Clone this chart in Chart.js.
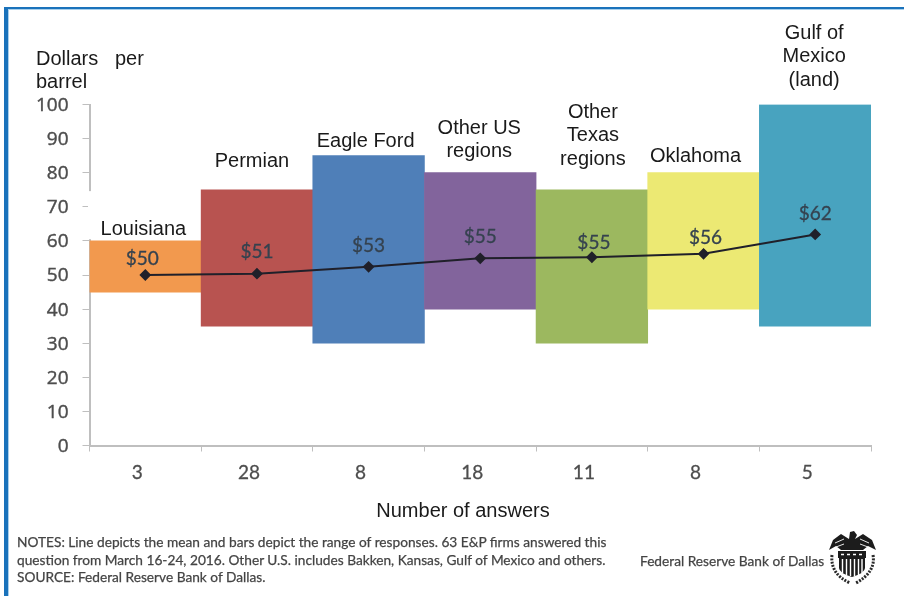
<!DOCTYPE html>
<html>
<head>
<meta charset="utf-8">
<script src="https://cdn.jsdelivr.net/npm/chart.js@4"></script>
<style>
  html, body { margin: 0; padding: 0; background: #fff; }
  #wrap { position: relative; width: 904px; height: 596px; overflow: hidden; }
  #frame { position: absolute; left: 4px; top: 7px; right: 0; bottom: 0; border-left: 4px solid #1a72bb; border-top: 2px solid #1a72bb; box-shadow: inset 1px 1px 0 #a9d0ec; }
  canvas { position: absolute; left: 0; top: 0; }
  #notes { position: absolute; left: 17px; top: 533px; font: 13.7px/17.5px Lato, sans-serif; color: #444; white-space: nowrap; -webkit-text-stroke: 0.25px #444; }
  #bank { position: absolute; left: 640px; top: 552px; font: 13.7px/18px Lato, sans-serif; color: #444; white-space: nowrap; -webkit-text-stroke: 0.25px #444; }
  #seal { position: absolute; left: 826px; top: 530px; filter: blur(0.4px); }
</style>
</head>
<body>
<div id="wrap">
  <div id="frame"></div>
  <canvas id="myChart" width="904" height="596"></canvas>
  <div id="notes">NOTES: Line depicts the mean and bars depict the range of responses. 63 E&amp;P firms answered this<br>question from March 16-24, 2016. Other U.S. includes Bakken, Kansas, Gulf of Mexico and others.<br>SOURCE: Federal Reserve Bank of Dallas.</div>
  <div id="bank">Federal Reserve Bank of Dallas</div>
  <svg id="seal" width="56" height="56" viewBox="0 0 56 56">
    <path d="M24 2 L28 1 L31 5 L29 9 L37 4 L46 10 L50 20 L42 16 L37 20 L15 20 L10 16 L3 20 L7 10 L15 4 L23 9 Z" fill="#1c1c1c"/>
    <path d="M9 13 L18 9 M43 13 L34 9 M10 17 L18 14 M42 17 L34 14" stroke="#fff" stroke-width="0.9"/>
    <rect x="12" y="21" width="28" height="7" fill="#1c1c1c"/>
    <path d="M15 24.500h3M21 24.500h3M27 24.500h3M33 24.500h3" stroke="#fff" stroke-width="1.600"/>
    <path d="M13 28 H39 V38 Q39 43 26 47 Q13 43 13 38 Z" fill="#1c1c1c"/>
    <path d="M16.500 29V43M20.500 29V45M24.500 29V46M28.500 29V46M32.500 29V45M36 29V43" stroke="#fff" stroke-width="1.400"/>
    <path d="M6 25 Q4 44 24 53 M47 25 Q50 42 30 53" fill="none" stroke="#2a2a2a" stroke-width="3" stroke-dasharray="2 1.300"/>
  </svg>
</div>
<script>
const categories = ['Louisiana', 'Permian', 'Eagle Ford', 'Other US regions', 'Other Texas regions', 'Oklahoma', 'Gulf of Mexico (land)'];
const answers = ['3', '28', '8', '18', '11', '8', '5'];
const lows = [45, 35, 30, 40, 30, 40, 35];
const highs = [60, 75, 85, 80, 75, 80, 100];
const means = [50, 50.4, 52.4, 54.9, 55.2, 56.2, 61.9];
const meanLabels = ['$50', '$51', '$53', '$55', '$55', '$56', '$62'];
const barColors = ['#f2994e', '#b85350', '#4f7fb8', '#82649c', '#9cb85f', '#ece973', '#48a3bf'];

// wrapped region names as they sit on the picture
const regionLines = [['Louisiana'], ['Permian'], ['Eagle Ford'], ['Other US', 'regions'], ['Other', 'Texas', 'regions'], ['Oklahoma'], ['Gulf of', 'Mexico', '(land)']];
const regionDx = [-2, -5, -3, -1, 1, -8, -1];
const regionY = [229, 161, 141, 128, 112, 156, 33];
const meanDx = [-3, 0, 0, 0, 2, 2, 0];
const meanDy = [-16, -22, -21, -21, -14, -16, -21];

const annotate = {
  id: 'annotate',
  afterDatasetsDraw(chart) {
    const c = chart.ctx, x = chart.scales.x, y = chart.scales.y;
    c.save();
    c.textAlign = 'center';
    c.textBaseline = 'middle';

    // the axis line is rubbed out behind the Louisiana label
    c.fillStyle = '#fff';
    c.fillRect(x.left - 1.5, y.getPixelForValue(74.6), 3, y.getPixelForValue(60.5) - y.getPixelForValue(74.6));

    c.font = '19px Lato';
    c.fillStyle = '#35424f';
    c.strokeStyle = '#35424f';
    c.lineWidth = 0.3;
    meanLabels.forEach((t, i) => {
      const px = x.getPixelForValue(i) + meanDx[i];
      const py = y.getPixelForValue(means[i]) + meanDy[i];
      c.fillText(t, px, py);
      c.strokeText(t, px, py);
    });

    c.font = '20px "Liberation Sans"';
    c.fillStyle = '#1a1a1a';
    regionLines.forEach((lines, i) => {
      lines.forEach((t, j) => {
        c.fillText(t, x.getPixelForValue(i) + regionDx[i], regionY[i] + j * 23.5);
      });
    });
    c.fillText('Number of answers', 463, 511);

    c.textAlign = 'left';
    c.fillText('Dollars   per', 36, 59);
    c.fillText('barrel', 36, 82);
    c.restore();
  }
};

new Chart(document.getElementById('myChart'), {
  data: {
    labels: answers,
    datasets: [
      {
        type: 'line',
        data: means,
        order: 0,
        borderColor: '#20202a',
        backgroundColor: '#20202a',
        borderWidth: 2,
        tension: 0,
        pointStyle: 'rectRot',
        pointRadius: 4.5,
        pointHoverRadius: 4.5
      },
      {
        type: 'bar',
        data: lows.map((v, i) => [v, highs[i]]),
        order: 1,
        backgroundColor: barColors,
        borderWidth: 0,
        barPercentage: 1,
        categoryPercentage: 1
      }
    ]
  },
  options: {
    responsive: false,
    animation: false,
    layout: { padding: { top: 104.5, right: 33, left: 0, bottom: 0 } },
    plugins: { legend: { display: false }, tooltip: { enabled: false } },
    scales: {
      x: {
        afterFit: s => { s.height = 150.5; },
        grid: { drawOnChartArea: false, tickLength: 6, tickColor: '#bfbfbf' },
        border: { color: '#bfbfbf', width: 2 },
        ticks: { font: { family: 'Lato', size: 19 }, color: '#4d4d4d', textStrokeColor: '#4d4d4d', textStrokeWidth: 0.3, padding: 10, labelOffset: -8, maxRotation: 0 }
      },
      y: {
        min: 0,
        max: 100,
        afterFit: s => { s.width = 89.5; },
        grid: { drawOnChartArea: false, tickLength: 7, tickColor: '#bfbfbf' },
        border: { color: '#bfbfbf', width: 2 },
        ticks: { stepSize: 10, font: { family: 'Open Sans', size: 19 }, color: '#4d4d4d', textStrokeColor: '#4d4d4d', textStrokeWidth: 0.4, padding: 14, labelOffset: 1 }
      }
    }
  },
  plugins: [annotate]
});
</script>
</body>
</html>
